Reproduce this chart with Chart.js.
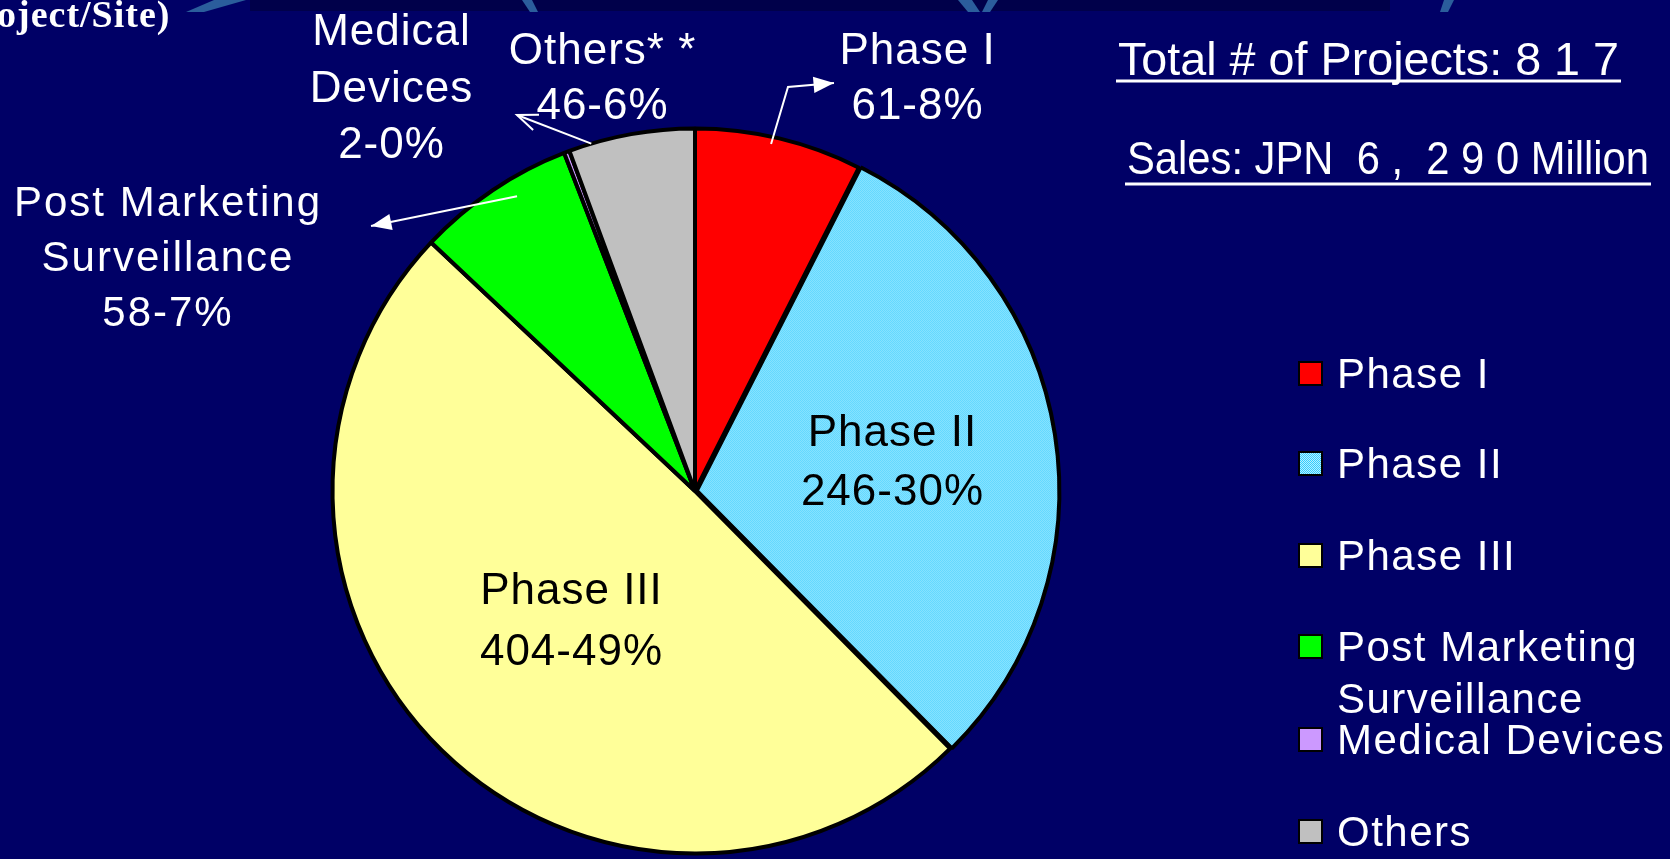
<!DOCTYPE html>
<html>
<head>
<meta charset="utf-8">
<script src="https://cdn.jsdelivr.net/npm/chart.js@4.4.1/dist/chart.umd.min.js"></script>
<style>
  html, body { margin: 0; padding: 0; background: #000066; overflow: hidden; }
  canvas { display: block; }
</style>
</head>
<body>
<canvas id="myChart" width="1670" height="859"></canvas>
<script>
// data
const categories = ['Phase I', 'Phase II', 'Phase III', 'Post Marketing Surveillance', 'Medical Devices', 'Others'];
const projectCounts = [61, 246, 404, 58, 2, 46];
const percents = [8, 30, 49, 7, 0, 6];
const legendLines = [['Phase I'], ['Phase II'], ['Phase III'], ['Post Marketing', 'Surveillance'], ['Medical Devices'], ['Others']];
const sliceTitles = [['Phase I'], ['Phase II'], ['Phase III'], ['Post Marketing', 'Surveillance'], ['Medical', 'Devices'], ['Others* *']];
const totalText = 'Total # of Projects: 8 1 7';
const salesText = 'Sales: JPN  6 ,  2 9 0 Million';

const FONT = '"Liberation Sans", Arial, sans-serif';
const BG = '#000066';

// hatched light blue used for Phase II
function makeHatch() {
	const c = document.createElement('canvas');
	c.width = 2; c.height = 2;
	const g = c.getContext('2d');
	g.fillStyle = '#33ccff'; g.fillRect(0, 0, 2, 2);
	g.fillStyle = '#b8f0ff'; g.fillRect(1, 0, 1, 1); g.fillRect(0, 1, 1, 1);
	return g.createPattern(c, 'repeat');
}
const hatch = makeHatch();
const sliceColors = ['#ff0000', hatch, '#ffff99', '#00ff00', '#cc99ff', '#c0c0c0'];

// label placement: inside labels use radius fraction, outside ones a fixed spot
const labelLayout = [
	{ x: 917, y: 64, color: '#fff', arrow: { frac: 0.46, rf: 0.98, via: [[788, 87]], tip: [834, 83], head: 'fill' } },
	{ inside: 0.55, color: '#000' },
	{ inside: 0.49, color: '#000' },
	{ x: 167, y: 216, color: '#fff', arrow: { frac: 0.61, rf: 0.95, via: [], tip: [371, 226], head: 'fill' } },
	{ x: 391, y: 45, color: '#fff' },
	{ x: 602, y: 64, color: '#fff', arrow: { frac: 0.18, rf: 1.0, via: [], tip: [517, 115], head: 'open' } }
];

function spacedText(ctx, text, x, y, ls) {
	ctx.letterSpacing = ls + 'px';
	const w = ctx.measureText(text).width - ls;
	ctx.fillText(text, x - w / 2, y);
}

function arrowHead(ctx, from, tip, type) {
	const a = Math.atan2(tip[1] - from[1], tip[0] - from[0]);
	const L = 22, W = 0.38;
	const p1 = [tip[0] - L * Math.cos(a - W), tip[1] - L * Math.sin(a - W)];
	const p2 = [tip[0] - L * Math.cos(a + W), tip[1] - L * Math.sin(a + W)];
	ctx.beginPath();
	ctx.moveTo(p1[0], p1[1]); ctx.lineTo(tip[0], tip[1]); ctx.lineTo(p2[0], p2[1]);
	if (type === 'fill') { ctx.closePath(); ctx.fill(); } else { ctx.stroke(); }
}

const decorPlugin = {
	id: 'decor',
	beforeDraw(chart) {
		const ctx = chart.ctx;
		ctx.save();
		ctx.fillStyle = BG;
		ctx.fillRect(0, 0, chart.width, chart.height);
		// cut-off header strip at the top
		ctx.fillStyle = '#00004a';
		ctx.fillRect(250, 0, 1140, 11);
		ctx.fillStyle = '#2b5d9c';
		[[214, 246, 186, 204], [522, 532, 530, 538], [958, 972, 968, 980], [988, 998, 982, 990], [1444, 1454, 1440, 1448]].forEach(s => {
			ctx.beginPath();
			ctx.moveTo(s[0], 0); ctx.lineTo(s[1], 0); ctx.lineTo(s[3], 12); ctx.lineTo(s[2], 12);
			ctx.closePath(); ctx.fill();
		});
		ctx.fillStyle = '#fff';
		ctx.font = 'bold 38px "Liberation Serif", "Times New Roman", serif';
		ctx.letterSpacing = '1px';
		ctx.fillText('oject/Site)', -3, 27);
		ctx.restore();
	},
	afterDraw(chart) {
		const ctx = chart.ctx;
		const arcs = chart.getDatasetMeta(0).data;
		ctx.save();
		ctx.textBaseline = 'alphabetic';

		// slice labels
		arcs.forEach((arc, i) => {
			const lay = labelLayout[i];
			const lines = sliceTitles[i].concat([projectCounts[i] + '-' + percents[i] + '%']);
			let x, y;
			if (lay.inside) {
				const a = (arc.startAngle + arc.endAngle) / 2;
				x = arc.x + Math.cos(a) * arc.outerRadius * lay.inside;
				y = arc.y + Math.sin(a) * arc.outerRadius * lay.inside - 30 + 16;
			} else {
				x = lay.x; y = lay.y;
			}
			ctx.fillStyle = lay.color;
			const isPms = i === 3;
			ctx.font = (isPms ? 42 : 44) + 'px ' + FONT;
			lines.forEach((t, k) => spacedText(ctx, t, x, y + k * (i === 4 ? 56.5 : (i === 2 ? 61 : (i === 1 ? 59 : 55))), isPms ? 2 : 1));

			if (lay.arrow) {
				const ar = lay.arrow;
				const ang = arc.startAngle + (arc.endAngle - arc.startAngle) * ar.frac;
				const tail = [arc.x + Math.cos(ang) * arc.outerRadius * ar.rf, arc.y + Math.sin(ang) * arc.outerRadius * ar.rf];
				const pts = [tail].concat(ar.via).concat([ar.tip]);
				ctx.strokeStyle = '#fff';
				ctx.fillStyle = '#fff';
				ctx.lineWidth = 2;
				ctx.beginPath();
				ctx.moveTo(pts[0][0], pts[0][1]);
				for (let k = 1; k < pts.length; k++) ctx.lineTo(pts[k][0], pts[k][1]);
				ctx.stroke();
				arrowHead(ctx, pts[pts.length - 2], ar.tip, ar.head);
			}
		});

		// header lines, squeezed to the narrow look of the original
		ctx.fillStyle = '#fff';
		ctx.strokeStyle = '#fff';
		ctx.letterSpacing = '0px';
		ctx.font = '47px ' + FONT;
		[[totalText, 1118, 75, 501, 81], [salesText, 1127, 174, 522, 184]].forEach(h => {
			const w = ctx.measureText(h[0]).width;
			ctx.save();
			ctx.translate(h[1], h[2]);
			ctx.scale(h[3] / w, 1);
			ctx.fillText(h[0], 0, 0);
			ctx.restore();
			ctx.lineWidth = 3;
			ctx.beginPath();
			ctx.moveTo(h[1] - 2, h[4]); ctx.lineTo(h[1] + h[3] + 2, h[4]);
			ctx.stroke();
		});

		// legend
		const legendY = [373, 463, 555, 646, 739, 831];
		ctx.font = '42px ' + FONT;
		legendLines.forEach((lines, i) => {
			const cy = legendY[i];
			ctx.fillStyle = sliceColors[i];
			ctx.fillRect(1299, cy - 11, 23, 23);
			ctx.strokeStyle = '#000';
			ctx.lineWidth = 2;
			ctx.strokeRect(1299, cy - 11, 23, 23);
			ctx.fillStyle = '#fff';
			ctx.letterSpacing = '1.5px';
			lines.forEach((t, k) => ctx.fillText(t, 1337, cy + 15 + k * 52));
		});
		ctx.restore();
	}
};

const config = {
	type: 'pie',
	data: {
		labels: categories,
		datasets: [{
			data: projectCounts,
			backgroundColor: sliceColors,
			borderColor: '#000',
			borderWidth: 4,
			offset: [0, 7, 0, 0, 0, 0]
		}]
	},
	options: {
		responsive: false,
		animation: false,
		layout: { padding: { left: 324, top: 123, right: 604, bottom: 0 } },
		plugins: {
			legend: { display: false },
			tooltip: { enabled: false }
		}
	},
	plugins: [decorPlugin]
};

const chartt = new Chart(document.getElementById('myChart'), config);
</script>
</body>
</html>
